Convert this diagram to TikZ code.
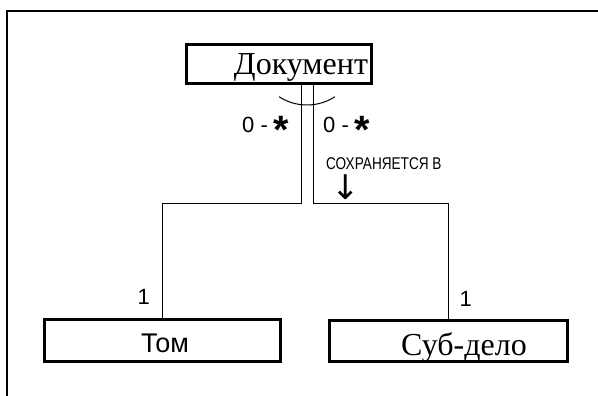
\documentclass[tikz,border=0pt]{standalone}
\usepackage{fontspec}
\setmainfont{Liberation Serif}
\newfontfamily\arialf{Liberation Sans}
\newfontfamily\dejavu{DejaVu Sans}
\newcommand{\bigast}{\raisebox{-11pt}{\scalebox{1.8}{\bfseries *}}}
\begin{document}
\begin{tikzpicture}[x=1pt,y=1pt,
  box/.style={draw,line width=3pt,inner sep=0pt},
  conn/.style={line width=1pt},
  seriftext/.style={font=\fontsize{32}{36}\selectfont,anchor=base,inner sep=0pt},
  sanstext/.style={font=\arialf\fontsize{27}{30}\selectfont,anchor=base,inner sep=0pt},
  mult/.style={font=\arialf\fontsize{22}{24}\selectfont,anchor=base west,inner sep=0pt},
  small/.style={font=\arialf\fontsize{17}{18}\selectfont,anchor=base west,inner sep=0pt},
]
\useasboundingbox (0,0) rectangle (598,-396);
% open frame round the drawing
\draw[line width=1.8pt] (7,-396) -- (7,-11) -- (598,-11);

% class boxes
\node[box,minimum width=185pt,minimum height=39pt] (doc) at (278.5,-64.5) {};
\node[box,minimum width=236pt,minimum height=42pt] (tom) at (162,-340) {};
\node[box,minimum width=238pt,minimum height=41pt] (sub) at (448,-340.5) {};

\node[seriftext] (doctext) at (301,-75) {Документ};
\node[sanstext] (tomtext) at (165,-352) {Том};
\node[seriftext] (subtext) at (464,-355) {Суб-дело};

% connectors
\coordinate (jy) at (0,-203);
\coordinate (dl) at ([xshift=22.5pt]doc.south);
\coordinate (dr) at ([xshift=34.5pt]doc.south);
\draw[conn] (dl) -- (dl |- jy) -- (tom.north |- jy) -- (tom.north);
\draw[conn] (dr) -- (dr |- jy) -- (sub.north |- jy) -- (sub.north);

% aggregation arc
\coordinate (hub) at (307,-53.7);
\draw[conn] (hub) ++(237:51.3) arc[start angle=237,end angle=303,radius=51.3];

% multiplicities and role
\node[mult] (m1) at (242,-132) {0 - \bigast};
\node[mult] (m2) at (323,-132) {0 - \bigast};
\node[small] (rel) at (326,-169) {\scalebox{0.8}[1]{СОХРАНЯЕТСЯ В}};
\node[font=\dejavu\fontsize{34}{36}\selectfont,inner sep=0pt] (dn) at (346,-187) {↓};
\node[mult] (one1) at (137.5,-304) {1};
\node[mult] (one2) at (459.5,-306) {1};
\end{tikzpicture}
\end{document}
